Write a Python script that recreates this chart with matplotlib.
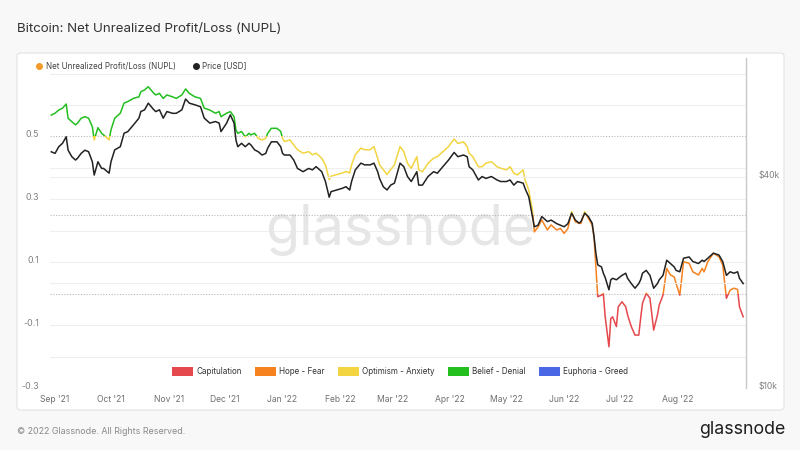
import numpy as np
import pandas as pd
import matplotlib
matplotlib.use('Agg')
from matplotlib import pyplot as plt
import matplotlib.dates as mdates
from matplotlib.patches import Rectangle, Patch, FancyBboxPatch
from matplotlib.lines import Line2D
from matplotlib.ticker import NullLocator
from matplotlib.transforms import ScaledTranslation

plt.rcParams['font.family'] = ['Inter', 'DejaVu Sans']

# data
dates = [
    '2021-08-30', '2021-09-01', '2021-09-03', '2021-09-05', '2021-09-07', '2021-09-08', '2021-09-10', '2021-09-12',
    '2021-09-13', '2021-09-15', '2021-09-17', '2021-09-19', '2021-09-21', '2021-09-22', '2021-09-24', '2021-09-26',
    '2021-09-27', '2021-09-30',
    '2021-10-01', '2021-10-03', '2021-10-06', '2021-10-08', '2021-10-10', '2021-10-13', '2021-10-16', '2021-10-17',
    '2021-10-19', '2021-10-21', '2021-10-24', '2021-10-25', '2021-10-27', '2021-10-29', '2021-10-31',
    '2021-11-03', '2021-11-05', '2021-11-08', '2021-11-10', '2021-11-12', '2021-11-15', '2021-11-18', '2021-11-20',
    '2021-11-23', '2021-11-26', '2021-11-28', '2021-11-29',
    '2021-12-02', '2021-12-04', '2021-12-06', '2021-12-07', '2021-12-08', '2021-12-10', '2021-12-12', '2021-12-14',
    '2021-12-15', '2021-12-17', '2021-12-19', '2021-12-21', '2021-12-23', '2021-12-24', '2021-12-26', '2021-12-29',
    '2021-12-31',
    '2022-01-01', '2022-01-02', '2022-01-05', '2022-01-07', '2022-01-09', '2022-01-12', '2022-01-15', '2022-01-17',
    '2022-01-19', '2022-01-22', '2022-01-24', '2022-01-26', '2022-01-27', '2022-01-30',
    '2022-02-02', '2022-02-04', '2022-02-06', '2022-02-07', '2022-02-09', '2022-02-12', '2022-02-14', '2022-02-17',
    '2022-02-19', '2022-02-21', '2022-02-22', '2022-02-24', '2022-02-26', '2022-02-28',
    '2022-03-02', '2022-03-05', '2022-03-07', '2022-03-09', '2022-03-11', '2022-03-14', '2022-03-15', '2022-03-17',
    '2022-03-20', '2022-03-23', '2022-03-25', '2022-03-28', '2022-03-31',
    '2022-04-03', '2022-04-05', '2022-04-08', '2022-04-10', '2022-04-11', '2022-04-13', '2022-04-16', '2022-04-18',
    '2022-04-20', '2022-04-23', '2022-04-26', '2022-04-28',
    '2022-05-01', '2022-05-03', '2022-05-05', '2022-05-07', '2022-05-10', '2022-05-11', '2022-05-13', '2022-05-15',
    '2022-05-16', '2022-05-18', '2022-05-20', '2022-05-23', '2022-05-25', '2022-05-28', '2022-05-30',
    '2022-06-01', '2022-06-03', '2022-06-05', '2022-06-07', '2022-06-09', '2022-06-10', '2022-06-12', '2022-06-14',
    '2022-06-16', '2022-06-17', '2022-06-18', '2022-06-19', '2022-06-21', '2022-06-22', '2022-06-23', '2022-06-25',
    '2022-06-26', '2022-06-27', '2022-06-29', '2022-06-30',
    '2022-07-02', '2022-07-04', '2022-07-05', '2022-07-07', '2022-07-09', '2022-07-11', '2022-07-12', '2022-07-13',
    '2022-07-15', '2022-07-17', '2022-07-19', '2022-07-21', '2022-07-22', '2022-07-24', '2022-07-26', '2022-07-28',
    '2022-07-30', '2022-07-31',
    '2022-08-02', '2022-08-04', '2022-08-07', '2022-08-09', '2022-08-12', '2022-08-14', '2022-08-15', '2022-08-17',
    '2022-08-20', '2022-08-23', '2022-08-25', '2022-08-27', '2022-08-29', '2022-08-31',
    '2022-09-02', '2022-09-03', '2022-09-05',
]

nupl = [
    .568, .574, .584, .590, .603, .558, .547, .537, .542, .558, .563, .558, .531, .489, .528, .510, .505, .489,
    .521, .558, .574, .606, .611, .621, .626, .642, .648, .658, .637, .632, .637, .621, .632,
    .626, .621, .632, .651, .637, .626, .621, .590, .584, .574, .579, .563,
    .574, .579, .563, .521, .510, .516, .499, .510, .505, .510, .494, .489, .494, .510, .526, .526, .516,
    .494, .484, .489, .473, .458, .447, .452, .442, .447, .431, .410, .363, .374, .379,
    .384, .389, .384, .410, .442, .463, .458, .458, .468, .431, .410, .395, .379, .395,
    .410, .468, .452, .415, .399, .436, .394, .388, .415, .431, .436, .452, .468,
    .492, .478, .483, .468, .447, .436, .404, .404, .415, .420, .404, .399,
    .394, .404, .383, .378, .394, .362, .330, .266, .197, .213, .235, .203, .219, .203, .208,
    .192, .208, .261, .229, .224, .224, .261, .240, .219, .182, .086, -.009, -.004, .001, -.073, -.168,
    -.078, -.073, -.104, -.041,
    -.025, -.041, -.067, -.104, -.131, -.131, -.078, -.030, .002, -.014, -.115, -.067, -.035, -.004, .081, .060,
    .054, .033,
    -.004, .102, .097, .070, .060, .081, .070, .102, .129, .118, .092, -.014, .012, .018,
    .014, -.041, -.073,
]

price_k = [
    47.3, 46.8, 48.9, 50.0, 52.2, 47.8, 45.8, 44.8, 45.3, 46.8, 47.8, 47.3, 44.3, 40.6, 44.3, 42.4, 42.4, 41.1,
    44.3, 47.9, 48.9, 53.4, 54.0, 56.4, 59.0, 61.6, 62.3, 65.1, 62.3, 61.6, 62.3, 59.0, 61.6,
    60.9, 60.9, 62.3, 66.9, 65.1, 64.4, 63.6, 59.0, 57.1, 57.7, 57.1, 54.0,
    57.1, 60.3, 57.1, 51.1, 48.9, 50.0, 48.9, 50.0, 49.5, 47.9, 47.3, 46.3, 46.8, 48.4, 50.5, 50.5, 48.9,
    46.8, 46.3, 46.3, 44.8, 42.4, 41.5, 42.4, 42.0, 42.9, 41.5, 38.9, 35.1, 36.4, 36.8,
    37.2, 37.6, 36.8, 38.9, 42.0, 43.9, 43.4, 43.4, 43.9, 41.5, 39.7, 37.6, 36.8, 38.0,
    38.5, 43.9, 42.9, 40.2, 38.9, 41.5, 38.0, 38.0, 40.2, 41.5, 41.1, 42.9, 44.8,
    47.1, 45.8, 46.3, 45.8, 42.9, 42.0, 39.3, 40.2, 39.7, 40.2, 39.3, 38.9,
    38.9, 39.3, 38.0, 38.9, 38.5, 37.2, 35.2, 30.9, 28.9, 29.2, 30.9, 29.9, 30.2, 29.5, 29.2,
    28.9, 29.5, 31.6, 30.2, 29.6, 29.9, 31.6, 30.9, 29.6, 27.1, 24.3, 22.5, 22.2, 21.3, 20.7, 19.1,
    20.4, 20.6, 20.4, 20.6,
    21.0, 21.3, 20.6, 19.9, 19.3, 19.9, 20.4, 21.3, 21.7, 21.0, 19.3, 19.9, 20.4, 21.0, 23.2, 22.7,
    22.2, 21.7,
    21.5, 23.5, 23.7, 23.0, 22.7, 23.2, 23.0, 23.5, 24.3, 24.0, 23.0, 21.0, 21.5, 21.3,
    21.5, 20.6, 19.9,
]

zone_labels = ['Capitulation', 'Hope - Fear', 'Optimism - Anxiety', 'Belief - Denial', 'Euphoria - Greed']
zone_bounds = [-1.0, 0.0, 0.25, 0.5, 0.75, 2.0]
zone_colors = ['#e5484d', '#f5821f', '#f2d541', '#22bf1f', '#4a68e6']

left_ticks = [-0.3, -0.1, 0.1, 0.3, 0.5]
price_ticks = [10000, 40000]
price_tick_labels = ['$10k', '$40k']

d = pd.to_datetime(dates)
price = np.array(price_k) * 1000

fig = plt.figure(figsize=(8, 4.5), dpi=100, facecolor='#f8f8f8')

# white card behind the chart
card = FancyBboxPatch((17 / 800, 1 - 410 / 450), 767 / 800, 357 / 450,
                      boxstyle='round,pad=0,rounding_size=0.006', transform=fig.transFigure,
                      fc='white', ec='#e3e3e3', lw=0.8, zorder=-5)
fig.patches.append(card)

ax = fig.add_axes([50 / 800, 1 - 388.3 / 450, 696 / 800, 330.5 / 450])
ax.patch.set_visible(False)

start = pd.Timestamp('2021-09-01')
x0 = start + pd.Timedelta(days=-2.7)
x1 = start + pd.Timedelta(days=370.5)
ax.set_xlim(x0, x1)
ax.set_ylim(-0.3, 0.75)

# grid
for v in [-0.3, -0.2, -0.1, 0.1, 0.2, 0.3, 0.4, 0.6, 0.7]:
    ax.axhline(v, color='#efefef', lw=0.8, zorder=0)
for v in [0.0, 0.25, 0.5]:
    ax.axhline(v, color='#b8b8b8', lw=0.8, ls=(0, (1, 1.5)), zorder=0.5)

# watermark
ax.text(0.503, 0.48, 'glassnode', transform=ax.transAxes, ha='center', va='center',
        fontsize=40, color='#e6e6e6', zorder=0.2)

# NUPL line coloured by zone (clip one copy of the line per band)
xa = mdates.date2num(x0)
xb = mdates.date2num(x1)
for lo, hi, c in zip(zone_bounds[:-1], zone_bounds[1:], zone_colors):
    ln, = ax.plot(d, nupl, color=c, lw=1.1, zorder=2, solid_joinstyle='round')
    ln.set_clip_path(Rectangle((xa, lo), xb - xa, hi - lo, transform=ax.transData))

ax.set_yticks(left_ticks)
ax.set_yticklabels([f'{t:g}' for t in left_ticks])
months = pd.date_range('2021-09-01', '2022-08-01', freq='MS')
ax.set_xticks(months)
ax.set_xticklabels([m.strftime("%b '%y") for m in months])
ax.tick_params(axis='y', length=0, pad=8, labelsize=6.4, labelcolor='#808080')
ax.tick_params(axis='x', length=0, pad=5, labelsize=6.2, labelcolor='#707070')
for s in ax.spines.values():
    s.set_visible(False)

# price on log right axis
ax2 = ax.twinx()
ax2.set_yscale('log')
ax2.set_ylim(10000, 87700)
ax2.axhline(20000, color='#efefef', lw=0.8, zorder=0)
ax2.axhline(40000, color='#efefef', lw=0.8, zorder=0)
ax2.plot(d, price, color='#222222', lw=1.1, zorder=3, solid_joinstyle='round')
ax2.set_yticks(price_ticks)
ax2.set_yticklabels(price_tick_labels)
ax2.yaxis.set_minor_locator(NullLocator())
ax2.tick_params(axis='y', length=0, pad=9, labelsize=6.2, labelcolor='#808080')
for name, s in ax2.spines.items():
    s.set_visible(name == 'right')
ax2.spines['right'].set_color('#c8c8c8')
ax2.spines['right'].set_linewidth(1.0)

# y labels sit a little above their grid lines
lift = ScaledTranslation(0, 3 / 100, fig.dpi_scale_trans)
for lab in ax.get_yticklabels() + ax2.get_yticklabels():
    lab.set_transform(lab.get_transform() + lift)

# zone legend inside the plot
zone_handles = [Patch(fc=c, ec='none', label=l) for c, l in zip(zone_colors, zone_labels)]
leg = ax2.legend(handles=zone_handles, loc='center', bbox_to_anchor=(0.503, 0.051), ncol=5,
                 frameon=False, fontsize=5.8, handlelength=2.6, handleheight=1.35,
                 handletextpad=0.45, columnspacing=1.6)
for t in leg.get_texts():
    t.set_color('#333333')

# series legend at top
top_handles = [
    Line2D([], [], marker='o', ls='', color='#f39a2a', markersize=4, label='Net Unrealized Profit/Loss (NUPL)'),
    Line2D([], [], marker='o', ls='', color='#222222', markersize=4, label='Price [USD]'),
]
leg2 = fig.legend(handles=top_handles, loc='center left', bbox_to_anchor=(28 / 800, 1 - 66 / 450), ncol=2,
                  frameon=False, fontsize=5.8, handletextpad=0.3, columnspacing=2.0, handlelength=1.0)
for t in leg2.get_texts():
    t.set_color('#444444')

fig.text(17 / 800, 1 - 29 / 450, 'Bitcoin: Net Unrealized Profit/Loss (NUPL)', fontsize=9.6,
         color='#333333', ha='left', va='center')
fig.text(17 / 800, 1 - 431 / 450, '\u00a9 2022 Glassnode. All Rights Reserved.', fontsize=6.4,
         color='#8a8a8a', ha='left', va='center')
fig.text(785 / 800, 1 - 429 / 450, 'glassnode', fontsize=12.8, color='#1e1e1e', ha='right', va='center')

fig.savefig('out.png', dpi=100, facecolor=fig.get_facecolor())
